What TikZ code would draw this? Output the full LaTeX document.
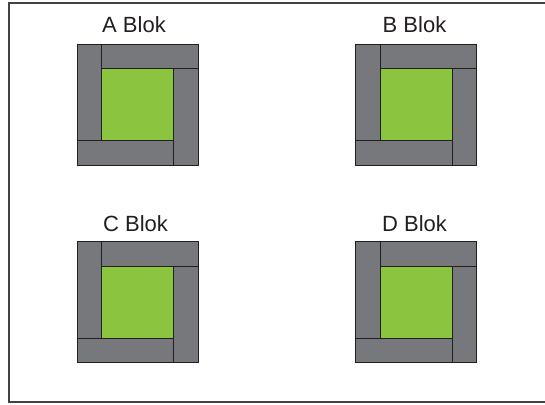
\documentclass[tikz,border=0pt]{standalone}
\usepackage{fontspec}
\setmainfont{Liberation Sans}
\definecolor{bargray}{HTML}{77787B}
\definecolor{blokgreen}{HTML}{8BC53F}
\definecolor{edge}{HTML}{231F20}
\tikzset{
  bar/.style={fill=bargray,draw=edge,line width=0.9pt},
  core/.style={fill=blokgreen,draw=edge,line width=0.9pt},
  lbl/.style={font=\fontsize{22}{26}\selectfont,text=edge,inner sep=0pt,anchor=base},
  frame/.style={draw=edge!85,line width=1.3pt},
  pics/blok/.style={code={
    \fill[blokgreen] (24.5,24.5) rectangle (96.5,96.5);
    \draw[bar] (0,0) rectangle (24.5,96.5);
    \draw[bar] (24.5,0) rectangle (121,24.5);
    \draw[bar] (96.5,24.5) rectangle (121,121);
    \draw[bar] (0,96.5) rectangle (96.5,121);
    \draw[core] (24.5,24.5) rectangle (96.5,96.5);
  }}
}
\begin{document}
\begin{tikzpicture}[x=1pt,y=-1pt]
\useasboundingbox (0,0) rectangle (545,404);
\fill[white] (0,0) rectangle (545,404);
\coordinate (fTL) at (9,3);
\coordinate (fTR) at (546,3);
\coordinate (fBL) at (9,402);
\coordinate (fBR) at (546,402);
\draw[frame] (fTR) -- (fTL) -- (fBL) -- (fBR);
\pic (A) at (77.3,44.3) {blok};
\pic (B) at (355.7,44.3) {blok};
\pic (C) at (77.3,241.5) {blok};
\pic (D) at (355.7,241.5) {blok};
\node[lbl] (la) at (134,32.3) {A Blok};
\node[lbl] (lb) at (414.5,32.3) {B Blok};
\node[lbl] (lc) at (135.5,231.3) {C Blok};
\node[lbl] (ld) at (414.5,231.3) {D Blok};
\end{tikzpicture}
\end{document}
